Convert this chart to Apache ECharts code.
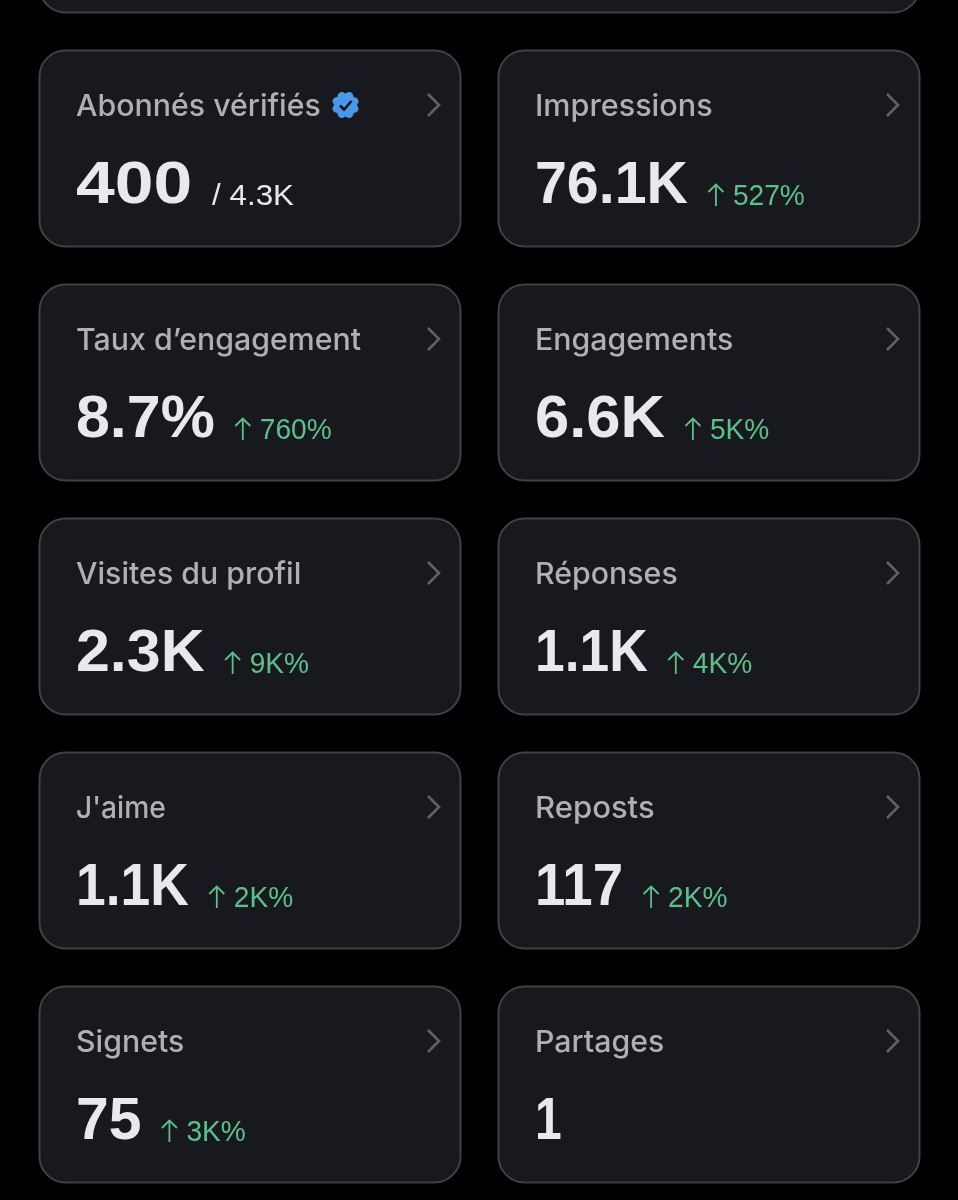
<!DOCTYPE html>
<html>
<head>
<meta charset="utf-8">
<style>
  html, body { margin: 0; padding: 0; background: #000; }
  #chart { width: 958px; height: 1200px; }
</style>
</head>
<body>
<div id="chart"></div>
<script src="https://cdn.jsdelivr.net/npm/echarts@6/dist/echarts.min.js"></script>
<script>
const leftTitles = ["Abonnés vérifiés", "Taux d’engagement", "Visites du profil", "J'aime", "Signets"];
const rightTitles = ["Impressions", "Engagements", "Réponses", "Reposts", "Partages"];
const leftValues = ["400", "8.7%", "2.3K", "1.1K", "75"];
const rightValues = ["76.1K", "6.6K", "1.1K", "117", "1"];
const leftDeltas = ["", "760%", "9K%", "2K%", "3K%"];
const rightDeltas = ["527%", "5K%", "4K%", "2K%", ""];
const verifiedTotal = "/ 4.3K";

const COLS = [39, 498];
const ROWS = [50, 284, 518, 752, 986];
const CARD_W = 421;
const CARD_H = 196;

const TITLE_FONT = '500 30px Inter';
const VALUE_FONT = 'bold 60px "Liberation Sans"';
const SMALL_FONT = '29px "Liberation Sans"';
const GREEN = "#5cc08b";
const cardStyle = { fill: "#17191e", stroke: "#3f4146", lineWidth: 2 };

// the original digits are not quite Liberation's widths, so some values get squeezed or stretched
const valueFit = { "400": 1.16, "1.1K": 0.89, "117": 0.91, "76.1K": 0.955, "75": 0.98, "6.6K": 1.025, "1": 0.8 };
const titleFit = { "J'aime": 0.94, "Impressions": 1.02, "Reposts": 1.035 };

const chart = echarts.init(document.getElementById("chart"), null, { renderer: "canvas" });

function textWidth(text, font) {
  return echarts.format.getTextRect ? echarts.format.getTextRect(text, font).width : text.length * 30;
}

function chevron(x, y) {
  return {
    type: "polyline",
    shape: { points: [[x, y - 11], [x + 11, y], [x, y + 11]] },
    style: { stroke: "#5f6166", lineWidth: 2.6, fill: null }
  };
}

function upArrow(x) {
  return [
    { type: "polyline", shape: { points: [[x + 8, 134], [x + 8, 156]] }, style: { stroke: GREEN, lineWidth: 1.8, fill: null } },
    { type: "polyline", shape: { points: [[x + 0.5, 142], [x + 8, 134.5], [x + 15.5, 142]] }, style: { stroke: GREEN, lineWidth: 1.8, fill: null } }
  ];
}

function badge(cx, cy) {
  const parts = [{ type: "circle", shape: { cx, cy, r: 11.5 }, style: { fill: "#4a99e9" } }];
  for (let i = 0; i < 8; i++) {
    const a = (i * Math.PI) / 4 + Math.PI / 8;
    parts.push({
      type: "circle",
      shape: { cx: cx + Math.cos(a) * 9.5, cy: cy + Math.sin(a) * 9.5, r: 4.2 },
      style: { fill: "#4a99e9" }
    });
  }
  parts.push({
    type: "polyline",
    shape: { points: [[cx - 5.5, cy + 0.5], [cx - 1.5, cy + 4.5], [cx + 6, cy - 4]] },
    style: { stroke: "#14161a", lineWidth: 2.6, fill: null }
  });
  return parts;
}

function buildCard(x0, y0, title, value, delta, extra) {
  const fit = valueFit[value] || 1.015;
  const vw = textWidth(value, VALUE_FONT) * fit;
  const children = [
    { type: "rect", shape: { x: 0.5, y: 0.5, width: CARD_W, height: CARD_H, r: 26 }, style: cardStyle },
    {
      type: "text", x: 37, y: 57, scaleX: titleFit[title] || 1.01,
      style: { text: title, fill: "#aeb0b5", font: TITLE_FONT, verticalAlign: "middle" }
    },
    chevron(389, 55),
    {
      type: "text", x: 37, y: 136, scaleX: fit,
      style: { text: value, fill: "#e7e9ea", font: VALUE_FONT, verticalAlign: "middle" }
    }
  ];
  if (delta) {
    const ax = 37 + vw + 20;
    upArrow(ax).forEach((a) => children.push(a));
    children.push({
      type: "text", x: ax + 25, y: 147, scaleX: 0.97,
      style: { text: delta, fill: GREEN, font: SMALL_FONT, verticalAlign: "middle" }
    });
  }
  if (extra) {
    children.push({
      type: "text", x: 37 + vw + 20, y: 147, scaleX: 1.08,
      style: { text: extra, fill: "#e7e9ea", font: SMALL_FONT, verticalAlign: "middle" }
    });
  }
  return { type: "group", x: x0, y: y0, children };
}

const elements = [
  // bottom of the card cut off by the top of the picture
  { type: "rect", x: 39, y: -100, shape: { x: 0.5, y: 0.5, width: 880, height: 112, r: 26 }, style: cardStyle }
];
ROWS.forEach((y, i) => {
  elements.push(buildCard(COLS[0], y, leftTitles[i], leftValues[i], leftDeltas[i], i === 0 ? verifiedTotal : null));
  elements.push(buildCard(COLS[1], y, rightTitles[i], rightValues[i], rightDeltas[i], null));
});
elements.push({ type: "group", children: badge(345.5, 105) });

chart.setOption({
  backgroundColor: "#000",
  animation: false,
  graphic: { elements }
});
</script>
</body>
</html>
